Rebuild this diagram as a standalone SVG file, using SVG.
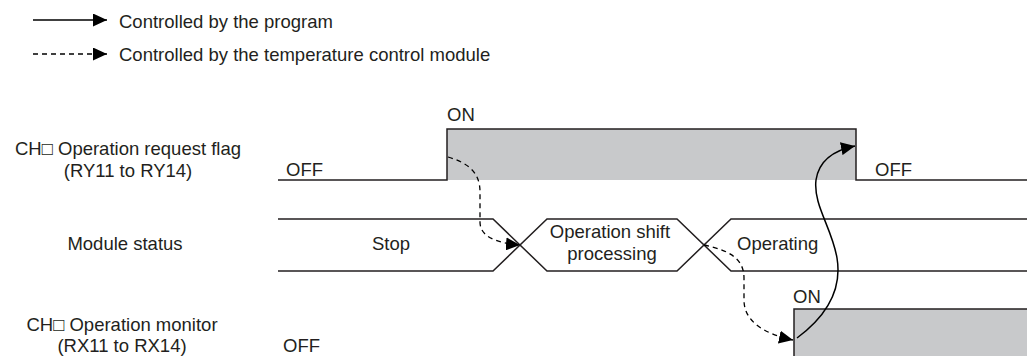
<svg xmlns="http://www.w3.org/2000/svg" width="1027" height="356" viewBox="0 0 1027 356">
<style>
text{font-family:"Liberation Sans",Arial,sans-serif;font-size:18.5px;fill:#231f20}
.lbl{text-anchor:middle}
.sig{fill:none;stroke:#231f20;stroke-width:1.5}
.fill{fill:#c8c9cb;stroke:none}
.solid{fill:none;stroke:#000;stroke-width:1.5}
.dash{fill:none;stroke:#000;stroke-width:1.3;stroke-dasharray:5,4}
</style>
<defs>
<marker id="ah" viewBox="0 0 14 13" refX="14" refY="6.5" markerWidth="14" markerHeight="13" markerUnits="userSpaceOnUse" orient="auto">
<path d="M0,0 L14,6.5 L0,13 Z" fill="#000"/>
</marker>
</defs>
<g id="legend">
<line class="solid" x1="33" y1="20" x2="107" y2="20" marker-end="url(#ah)"/>
<text x="119" y="28">Controlled by the program</text>
<line class="dash" x1="33" y1="54" x2="107" y2="54" marker-end="url(#ah)"/>
<text x="119" y="61">Controlled by the temperature control module</text>
</g>
<g id="request-flag">
<text class="lbl" x="128" y="155">CH□ Operation request flag</text>
<text class="lbl" x="128" y="177">(RY11 to RY14)</text>
<rect class="fill" x="447" y="129" width="409" height="51"/>
<polyline class="sig" points="278,180 447,180 447,129 856,129 856,180 1027,180"/>
<text x="447" y="121">ON</text>
<text x="286" y="176">OFF</text>
<text x="875" y="176">OFF</text>
</g>
<g id="module-status">
<text class="lbl" x="125" y="250">Module status</text>
<polyline class="sig" points="278,219 493,219 547,271 677,271 731,219 1027,219"/>
<polyline class="sig" points="278,271 493,271 547,219 677,219 731,271 1027,271"/>
<text x="372" y="250">Stop</text>
<text class="lbl" x="610" y="238">Operation shift</text>
<text class="lbl" x="612" y="260">processing</text>
<text x="737" y="250">Operating</text>
</g>
<g id="operation-monitor">
<text class="lbl" x="122" y="331">CH□ Operation monitor</text>
<text class="lbl" x="122" y="352">(RX11 to RX14)</text>
<rect class="fill" x="794" y="309" width="233" height="50"/>
<polyline class="sig" points="794,360 794,309 1027,309"/>
<text x="793" y="303">ON</text>
<text x="283" y="352">OFF</text>
</g>
<g id="connectors">
<path class="dash" d="M448,157 C468,163 480,172 480,192 L480,222 C480,236 495,243 520,245" marker-end="url(#ah)"/>
<path class="dash" d="M704,245 C728,250 744,258 744,278 L744,300 C744,322 765,334 793,340" marker-end="url(#ah)"/>
<path class="solid" d="M797,338 C828,315 842,288 837,258 C832,228 813,205 816,180 C819,160 835,150 855,146" marker-end="url(#ah)"/>
</g>
</svg>
